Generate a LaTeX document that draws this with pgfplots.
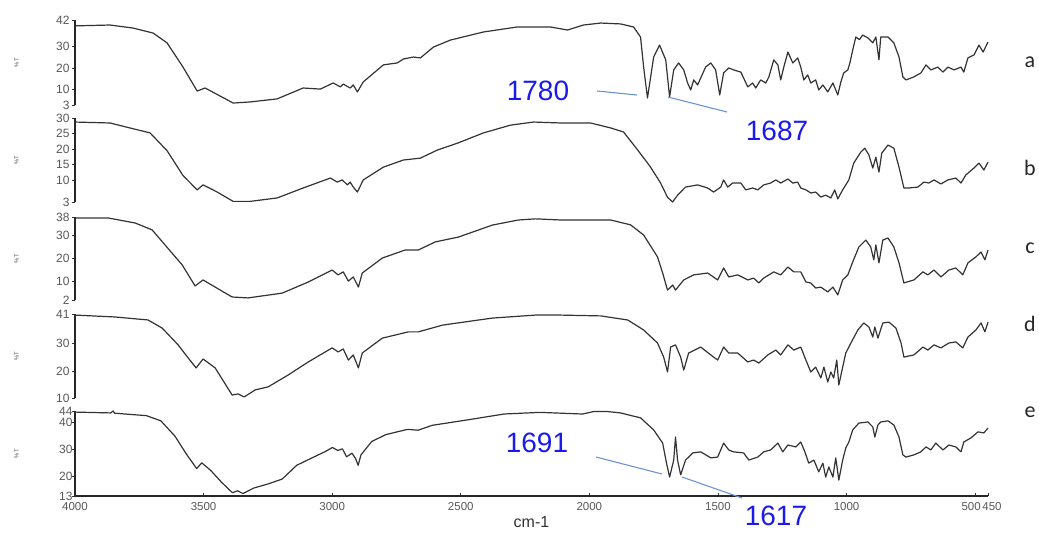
\documentclass[border=0pt]{standalone}
\usepackage{fontspec}
\setmainfont{Liberation Sans}
\newfontfamily\carlito{Carlito}
\usepackage{pgfplots}
\pgfplotsset{compat=1.18}
\definecolor{tickgray}{HTML}{585858}
\definecolor{annblue}{HTML}{1A1AF0}
\definecolor{annline}{HTML}{6A93D4}
\pgfplotsset{
  ftir/.style={
    scale only axis, width=913pt,
    xmin=450, xmax=4000, x dir=reverse,
    axis y line*=left,
    clip=false,
    tick align=outside, major tick length=3pt,
    axis line style={line width=1.1pt, black!85},
    every tick/.append style={line width=0.8pt, black!80},
    yticklabel style={font=\fontsize{12}{12}\selectfont, text=tickgray, xshift=1pt},
    /pgf/number format/assume math mode=true,
    ylabel={\%T},
    ylabel style={font=\fontsize{6}{6}\selectfont, text=tickgray, at={(axis description cs:-0.064,0.5)}, anchor=center},
  },
  spec/.style={black!80, line width=1.2pt, line join=round, no markers},
}
\begin{document}
\begin{tikzpicture}
\useasboundingbox (0,0) rectangle (1039pt,-533pt);

% a
\begin{axis}[ftir, axis x line=none, at={(75pt,-20pt)}, anchor=north west, height=85pt,
  ymin=3, ymax=42, ytick={3,10,20,30,42}]
\addplot[spec] table {
4000 39.3
3864 39.7
3774 38.3
3696 36.0
3642 31.5
3580 20.4
3525 9.4
3494 10.8
3385 3.9
3319 4.4
3214 5.8
3113 10.8
3046 10.3
2996 13.1
2968 11.3
2957 12.6
2930 10.8
2918 12.2
2902 9.0
2879 13.6
2801 21.4
2747 22.3
2723 24.1
2684 25.0
2657 24.6
2606 29.6
2540 32.8
2412 36.5
2280 38.8
2151 38.8
2085 37.4
2023 39.7
1956 40.6
1879 40.2
1828 38.8
1801 34.2
1789 20.4
1774 6.2
1750 25.0
1727 30.5
1703 23.7
1688 6.7
1672 19.1
1653 22.3
1633 19.1
1618 13.1
1606 9.9
1594 14.5
1579 12.2
1567 15.4
1548 20.4
1528 22.3
1509 19.1
1493 7.6
1478 17.7
1458 20.0
1439 19.1
1411 18.1
1384 11.3
1365 13.1
1353 10.8
1334 14.5
1314 13.1
1302 15.9
1283 23.7
1267 21.4
1256 14.5
1244 20.4
1228 27.3
1209 22.3
1190 24.6
1178 20.4
1166 14.5
1151 16.8
1139 13.1
1120 14.5
1108 9.9
1092 12.2
1073 9.0
1053 13.1
1042 9.9
1034 7.6
1022 13.6
1011 17.7
995 19.1
987 22.3
976 28.2
964 34.2
950 33.0
937 35.1
917 33.8
898 31.5
886 34.2
874 23.7
867 34.2
839 34.2
816 31.5
796 25.0
781 15.9
769 14.5
738 15.9
711 17.7
691 21.4
672 19.1
645 20.4
625 18.1
606 20.4
582 19.1
555 20.4
544 18.1
528 24.6
504 26.0
485 30.5
469 27.3
450 31.9
};
\end{axis}

% b
\begin{axis}[ftir, axis x line=none, at={(75pt,-118pt)}, anchor=north west, height=84pt,
  ymin=3, ymax=30, ytick={3,10,15,20,25,30}]
\addplot[spec] table {
4000 28.7
3864 28.4
3708 25.2
3642 19.5
3580 11.5
3525 6.9
3502 8.5
3447 6.2
3385 3.2
3319 3.2
3214 4.3
3113 7.5
3007 10.7
2980 9.4
2961 10.1
2941 8.5
2930 9.4
2918 7.8
2902 6.2
2879 10.1
2801 14.2
2723 16.5
2657 17.1
2591 19.7
2513 21.9
2412 25.2
2307 27.7
2217 28.7
2112 28.4
1995 28.4
1917 26.8
1867 25.5
1812 19.7
1762 14.2
1723 9.1
1696 4.5
1676 3.0
1657 5.2
1626 7.8
1579 8.5
1540 7.5
1517 6.2
1489 7.8
1478 10.1
1462 7.8
1443 9.1
1411 9.1
1392 6.9
1365 7.5
1345 6.9
1322 8.5
1295 9.1
1275 10.1
1256 9.1
1228 10.4
1209 9.1
1190 9.4
1178 7.5
1158 6.9
1139 5.9
1120 6.2
1100 4.6
1081 5.2
1061 4.3
1046 6.9
1034 4.0
1015 6.9
1003 8.5
991 10.1
972 15.5
944 19.1
929 20.3
913 18.1
898 13.9
886 17.4
874 12.6
863 18.7
839 21.3
816 20.3
796 14.2
777 7.5
758 7.5
723 7.8
699 9.4
680 9.1
660 10.1
633 8.8
606 10.1
575 10.7
555 9.1
536 11.7
505 13.9
485 15.5
466 13.3
450 15.8
};
\end{axis}

% c
\begin{axis}[ftir, axis x line=none, at={(75pt,-217pt)}, anchor=north west, height=83pt,
  ymin=2, ymax=38, ytick={2,10,20,30,38}]
\addplot[spec] table {
4000 37.6
3872 37.6
3766 35.4
3700 32.4
3650 25.9
3583 17.2
3533 8.1
3502 10.7
3455 7.6
3389 3.3
3327 2.9
3194 5.0
3093 9.8
3000 15.0
2977 12.9
2957 14.2
2937 10.2
2918 12.0
2898 7.6
2883 13.7
2805 20.2
2716 23.7
2665 23.7
2599 27.2
2509 29.3
2377 34.5
2276 36.7
2210 37.2
2112 36.7
1917 36.7
1840 34.6
1789 30.2
1735 20.7
1715 13.7
1696 6.3
1676 8.5
1665 6.3
1633 10.7
1594 12.9
1540 13.7
1501 10.7
1478 15.9
1458 12.0
1423 12.9
1384 10.7
1361 11.5
1341 9.4
1322 11.5
1283 14.2
1256 12.9
1228 16.3
1205 14.2
1178 14.2
1158 9.8
1139 9.4
1120 7.2
1100 7.6
1073 5.5
1053 7.6
1034 4.2
1015 10.7
995 12.9
976 18.5
952 25.0
925 28.0
906 25.0
894 19.4
886 25.9
874 18.1
859 28.0
839 28.9
816 25.0
796 18.1
777 9.4
738 10.7
703 14.2
684 12.9
660 15.0
633 12.0
602 15.0
575 15.9
548 12.9
528 18.1
497 20.7
477 22.8
462 19.4
450 23.7
};
\end{axis}

% d
\begin{axis}[ftir, axis x line=none, at={(75pt,-314pt)}, anchor=north west, height=84pt,
  ymin=10, ymax=41, ytick={10,20,30,41}]
\addplot[spec] table {
4000 40.6
3844 39.9
3716 38.8
3661 35.8
3599 29.6
3560 24.8
3529 21.1
3502 24.4
3455 21.1
3389 11.1
3366 11.5
3342 10.4
3299 13.0
3249 14.1
3171 18.5
3093 23.3
3000 28.5
2977 27.0
2957 28.1
2937 24.0
2918 25.9
2898 21.1
2883 26.6
2805 32.1
2704 34.4
2665 34.4
2571 36.9
2377 39.5
2210 40.6
2112 40.6
1956 40.3
1851 38.8
1789 35.1
1735 30.3
1711 25.1
1696 19.6
1684 28.8
1665 29.6
1645 25.1
1633 20.3
1614 26.6
1567 28.8
1528 25.9
1501 24.0
1478 28.8
1458 26.6
1423 26.6
1384 23.3
1361 24.0
1341 22.9
1306 25.9
1275 27.7
1256 25.9
1228 29.6
1205 27.7
1178 28.8
1158 24.0
1139 19.6
1120 21.4
1100 17.4
1088 21.4
1073 15.9
1061 19.6
1050 17.4
1038 24.0
1030 14.8
1015 21.4
1003 26.6
983 30.3
956 35.1
933 37.7
913 36.2
898 32.5
890 36.2
878 32.1
859 37.7
835 38.0
808 35.8
788 30.3
777 25.1
738 25.9
703 28.8
684 27.7
660 29.6
633 28.5
602 30.3
575 30.7
548 28.5
528 32.5
497 35.1
477 37.7
462 34.4
450 38.0
};
\end{axis}

% e
\begin{axis}[ftir, at={(75pt,-411pt)}, anchor=north west, height=85pt,
  ymin=13, ymax=44, ytick={13,20,30,40,44},
  axis x line*=bottom, tick align=inside,
  every y tick/.append style={xshift=-3pt},
  xtick={4000,3500,3000,2500,2000,1500,1000,500,450},
  xticklabels={4000,3500,3000,2500,2000,1500,1000,{500\hspace*{8pt}},{\hspace*{8pt}450}},
  xticklabel style={font=\fontsize{11.5}{11.5}\selectfont, text=tickgray, yshift=-3pt},
  xlabel={cm-1},
  xlabel style={font=\fontsize{16}{16}\selectfont, text=black!80,
    at={(axis description cs:0.5,0)}, anchor=center, yshift=-26pt}]
\addplot[spec] table {
4000 43.6
3861 43.3
3852 44.0
3846 43.2
3722 42.3
3666 40.4
3611 34.8
3569 28.6
3527 23.0
3507 25.1
3472 22.3
3430 18.0
3388 14.2
3368 14.9
3347 13.9
3305 15.9
3249 17.4
3194 19.2
3138 24.2
3083 26.7
3027 29.2
2999 30.7
2978 29.6
2960 30.2
2944 27.3
2923 28.6
2909 26.7
2899 24.2
2888 28.0
2846 32.9
2791 35.4
2707 37.3
2666 37.0
2610 38.8
2471 40.8
2332 42.9
2193 43.5
2026 42.9
1984 43.8
1929 43.8
1879 43.3
1801 41.5
1750 37.1
1715 32.3
1700 25.0
1688 19.9
1672 26.1
1665 34.5
1657 26.1
1645 20.7
1626 26.1
1598 28.7
1567 29.1
1528 26.9
1501 27.2
1478 32.3
1458 29.8
1439 29.1
1400 28.7
1380 26.1
1345 27.2
1322 29.1
1295 29.8
1267 32.3
1248 29.1
1228 31.6
1197 30.9
1178 32.7
1162 29.1
1147 25.0
1127 26.1
1108 21.8
1092 25.0
1081 19.9
1069 23.6
1053 19.9
1042 26.9
1030 18.8
1015 26.1
1003 30.5
991 32.7
976 37.1
952 39.6
917 40.0
898 38.2
890 34.5
878 38.9
867 40.0
839 40.4
816 38.9
796 34.5
781 28.0
769 27.2
738 28.0
711 29.1
691 30.9
672 29.8
653 32.3
625 29.8
602 31.6
575 30.9
555 29.1
544 32.7
516 34.2
489 36.4
466 36.0
450 37.8
};
\end{axis}

% sample letters
\begin{scope}[every node/.style={font=\carlito\fontsize{22}{22}\selectfont, text=black!85}]
\node at (1030pt,-62pt) {a};
\node at (1030pt,-168pt) {b};
\node at (1030pt,-248pt) {c};
\node at (1030pt,-324pt) {d};
\node at (1030pt,-412pt) {e};
\end{scope}

% peak annotations
\begin{scope}[every node/.style={font=\fontsize{28}{28}\selectfont, text=annblue}]
\draw[annline, line width=1.1pt] (597pt,-91pt) -- (637pt,-95pt);
\draw[annline, line width=1.1pt] (668pt,-97pt) -- (727pt,-112pt);
\draw[annline, line width=1.1pt] (596pt,-457pt) -- (662pt,-474pt);
\draw[annline, line width=1.1pt] (682pt,-477pt) -- (742pt,-498pt);
\node at (538pt,-91pt) {1780};
\node at (777pt,-131pt) {1687};
\node at (537pt,-443pt) {1691};
\node at (776pt,-516pt) {1617};
\end{scope}
\end{tikzpicture}
\end{document}
